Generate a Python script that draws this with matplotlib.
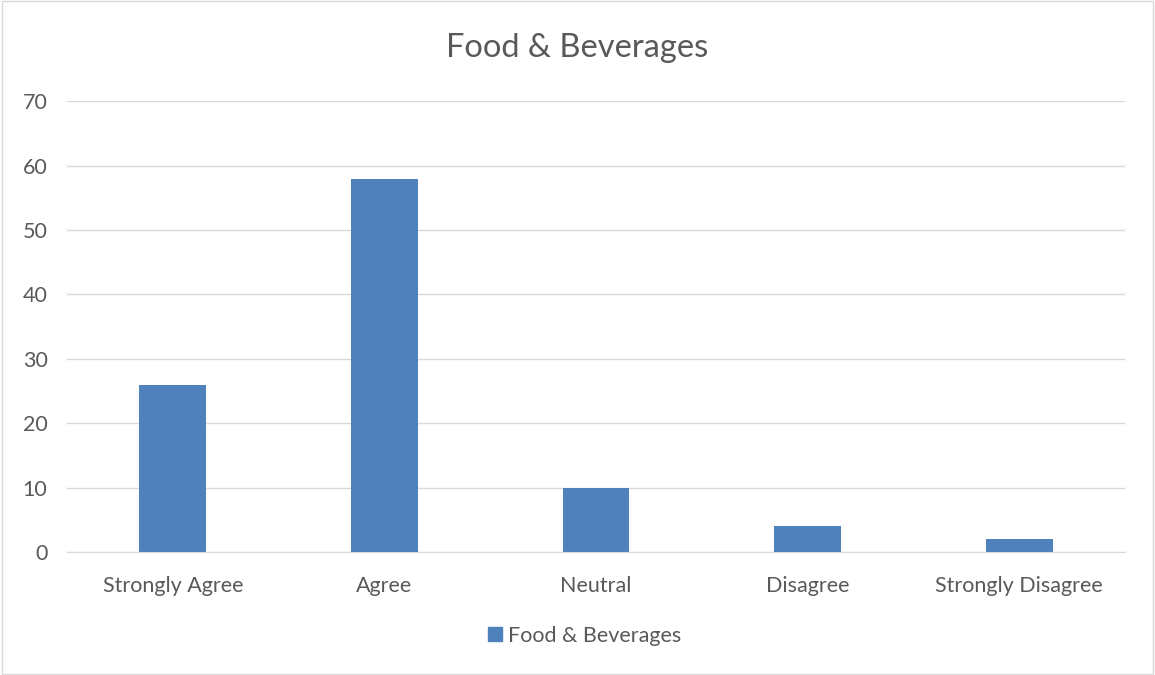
import matplotlib.pyplot as plt
import matplotlib.patches as mpatches

plt.rcParams['font.family'] = ['Lato', 'DejaVu Sans']

categories = ['Strongly Agree', 'Agree', 'Neutral', 'Disagree', 'Strongly Disagree']
values = [26, 58, 10, 4, 2]
series_name = 'Food & Beverages'

bar_color = '#4F81BD'
text_color = '#595959'
grid_color = '#D9D9D9'

fig = plt.figure(figsize=(11.55, 6.75), dpi=100)
ax = fig.add_axes([0.058, 0.182, 0.916, 0.668])

x = range(len(categories))
ax.bar(x, values, width=0.316, color=bar_color, label=series_name, zorder=3)

ax.set_xlim(-0.5, len(categories) - 0.5)
ax.set_ylim(0, 70)
ax.set_yticks(range(0, 71, 10))
ax.set_xticks(list(x))
ax.set_xticklabels(categories)
ax.yaxis.grid(True, color=grid_color, linewidth=1, zorder=0)
ax.tick_params(axis='both', length=0, colors=text_color, labelsize=15.5)
ax.tick_params(axis='x', pad=17)
ax.tick_params(axis='y', pad=14)
for s in ['top', 'right', 'left']:
    ax.spines[s].set_visible(False)
ax.spines['bottom'].set_color(grid_color)

fig.text(0.5, 0.929, series_name, ha='center', va='center', fontsize=23.5, color=text_color)

handle = mpatches.Patch(color=bar_color, label=series_name)
fig.legend(handles=[handle], loc='center', bbox_to_anchor=(0.506, 0.058), frameon=False,
           fontsize=15.5, labelcolor=text_color, handlelength=0.65, handleheight=0.65,
           handletextpad=0.3)

# outer chart border
fig.patches.append(mpatches.Rectangle((0.002, 0.002), 0.996, 0.996, transform=fig.transFigure,
                                      fill=False, edgecolor='#D9D9D9', linewidth=1))

fig.savefig('out.png', dpi=100)
